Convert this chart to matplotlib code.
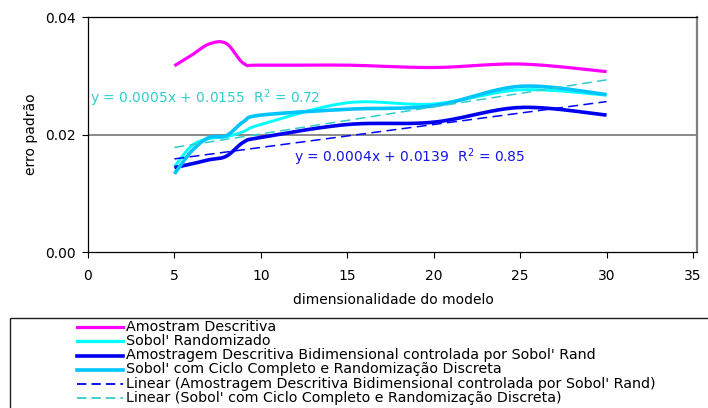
import numpy as np
import matplotlib
matplotlib.use("Agg")
import matplotlib.pyplot as plt
from matplotlib.lines import Line2D
from matplotlib.patches import Rectangle

# dimensionality of the model (x) and standard error of each sampling scheme (y)
dims = [5, 6, 7, 8, 9, 10, 15, 20, 25, 30]
amostram_descritiva = [0.0317, 0.0335, 0.0354, 0.0355, 0.0321, 0.0318, 0.0318, 0.0314, 0.0320, 0.0307]
sobol_randomizado = [0.0145, 0.0181, 0.0193, 0.0196, 0.0205, 0.0217, 0.0254, 0.0252, 0.0276, 0.0267]
amostragem_bidimensional = [0.01435, 0.0150, 0.0157, 0.0163, 0.0187, 0.0195, 0.0217, 0.0221, 0.0246, 0.0233]
sobol_ciclo_completo = [0.0133, 0.0172, 0.0195, 0.0198, 0.0222, 0.0233, 0.0243, 0.0249, 0.0282, 0.0268]

# linear trend lines: slope, intercept, R^2
trend_bidimensional = [0.00039, 0.0139]
trend_ciclo_completo = [0.00046, 0.0155]
r2_bidimensional = 0.85
r2_ciclo_completo = 0.72

x_ticks = [0, 5, 10, 15, 20, 25, 30, 35]
y_ticks = [0.00, 0.02, 0.04]

labels = [
    "Amostram Descritiva",
    "Sobol' Randomizado",
    "Amostragem Descritiva Bidimensional controlada por Sobol' Rand",
    "Sobol' com Ciclo Completo e Randomização Discreta",
    "Linear (Amostragem Descritiva Bidimensional controlada por Sobol' Rand)",
    "Linear (Sobol' com Ciclo Completo e Randomização Discreta)",
]

C_MAGENTA = "#FF00FF"
C_CYAN = "#00FFFF"
C_BLUE = "#0000EE"
C_SKY = "#00C4FF"
C_BLUE_DASH = "#0000FF"
C_TEAL = "#33CCCC"

W, H = 708, 408


def fx(px):
    return px / W


def fy(py):
    return 1 - py / H


def smooth(xs, ys, steps=30):
    """Bezier smoothing through every point (Catmull-Rom style handles)."""
    p = np.column_stack([xs, ys]).astype(float)
    ext = np.vstack([p[0], p, p[-1]])
    t = np.linspace(0, 1, steps)[1:, None]
    out = [p[:1]]
    for i in range(len(p) - 1):
        p0, p3 = p[i], p[i + 1]
        c1 = p0 + (ext[i + 2] - ext[i]) / 6
        c2 = p3 - (ext[i + 3] - ext[i + 1]) / 6
        seg = (1 - t) ** 3 * p0 + 3 * (1 - t) ** 2 * t * c1 + 3 * (1 - t) * t ** 2 * c2 + t ** 3 * p3
        out.append(seg)
    c = np.vstack(out)
    return c[:, 0], c[:, 1]


plt.rcParams["font.family"] = ["DejaVu Sans"]

fig = plt.figure(figsize=(W / 100, H / 100), dpi=100)
ax = fig.add_axes([fx(88), fy(252), 609 / W, 235 / H])
ax.set_xlim(0, 35 * 609 / 605)
ax.set_ylim(0, 0.04)

ax.axhline(0.02, color="#808080", lw=1.3, zorder=1)

series = [
    (amostram_descritiva, C_MAGENTA, 2.3),
    (sobol_randomizado, C_CYAN, 2.1),
    (amostragem_bidimensional, C_BLUE, 2.6),
    (sobol_ciclo_completo, C_SKY, 2.6),
]
for vals, col, lw in series:
    sx, sy = smooth(dims, vals)
    ax.plot(sx, sy, color=col, lw=lw, solid_capstyle="butt", zorder=3)

tx = np.array([dims[0], dims[-1]], dtype=float)
ax.plot(tx, trend_bidimensional[0] * tx + trend_bidimensional[1], color=C_BLUE_DASH,
        lw=1.1, dashes=(6.5, 3.5), zorder=4)
ax.plot(tx, trend_ciclo_completo[0] * tx + trend_ciclo_completo[1], color=C_TEAL,
        lw=1.1, dashes=(6.5, 3.5), zorder=4)

ax.text(0.1, 0.0262,
        f"y = {trend_ciclo_completo[0]:.4f}x + {trend_ciclo_completo[1]:.4f}  R$^2$ = {r2_ciclo_completo:.2f}",
        color=C_TEAL, fontsize=10, va="center", ha="left")
ax.text(11.9, 0.0162,
        f"y = {trend_bidimensional[0]:.4f}x + {trend_bidimensional[1]:.4f}  R$^2$ = {r2_bidimensional:.2f}",
        color="#1414E6", fontsize=10, va="center", ha="left")

ax.set_xticks(x_ticks)
ax.set_yticks(y_ticks)
ax.set_yticklabels([f"{v:.2f}" for v in y_ticks])
ax.tick_params(axis="both", direction="out", length=4, width=0.8, labelsize=10, colors="black")
ax.tick_params(axis="y", pad=5)
ax.tick_params(axis="x", pad=8.5)

for s in ("left", "bottom", "top"):
    ax.spines[s].set_color("black")
    ax.spines[s].set_linewidth(0.9)
ax.spines["right"].set_color("#808080")
ax.spines["right"].set_linewidth(1.6)

fig.text(fx(31), fy(134), "erro padrão", rotation=90, ha="center", va="center", fontsize=10)
fig.text(fx(393), fy(304), "dimensionalidade do modelo", ha="center", va="baseline", fontsize=10)

# legend panel below the plot
fig.patches.append(Rectangle((fx(10), -0.05), 1.1, fy(318) + 0.05, transform=fig.transFigure,
                             fill=False, edgecolor="#202020", lw=1.0))
legend_styles = [
    (C_MAGENTA, 2.3, None),
    (C_CYAN, 2.3, None),
    (C_BLUE, 2.6, None),
    (C_SKY, 2.6, None),
    (C_BLUE_DASH, 1.3, (5.2, 2.8)),
    (C_TEAL, 1.3, (5.2, 2.8)),
]
row_y = [327, 341, 355.5, 369.5, 384, 398]
for (col, lw, dash), lab, py in zip(legend_styles, labels, row_y):
    ln = Line2D([fx(77), fx(123)], [fy(py), fy(py)], transform=fig.transFigure, color=col, lw=lw)
    if dash:
        ln.set_dashes(dash)
    fig.add_artist(ln)
    fig.text(fx(126), fy(py), lab, ha="left", va="center", fontsize=10.3)

fig.savefig("out.png", dpi=100)
